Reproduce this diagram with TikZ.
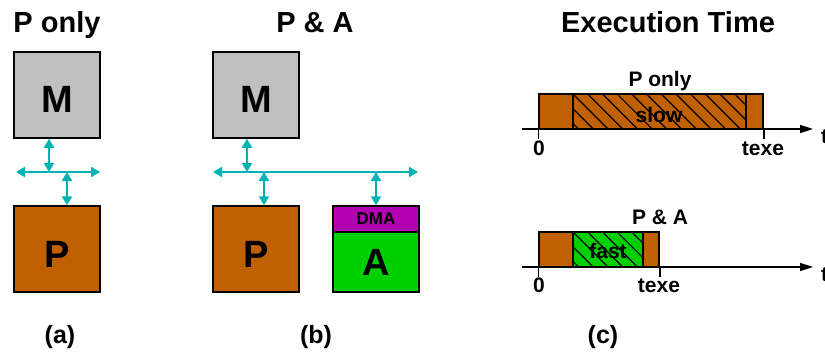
\documentclass[tikz,border=0pt]{standalone}
\usepackage{fontspec}
\setmainfont{Liberation Sans}
\usetikzlibrary{arrows.meta}
\definecolor{procbrown}{RGB}{192,96,0}
\definecolor{memgray}{RGB}{192,192,192}
\definecolor{accgreen}{RGB}{0,208,0}
\definecolor{dmapurple}{RGB}{176,0,176}
\definecolor{busteal}{RGB}{0,178,178}
\tikzset{
  unitbox/.style={draw=black, line width=1.5pt, inner sep=0pt, rectangle,
    minimum width=86pt, minimum height=86pt},
  bigletter/.style={font=\fontsize{38}{40}\selectfont\bfseries, inner sep=0pt, anchor=base},
  title/.style={font=\fontsize{29}{32}\selectfont\bfseries, inner sep=0pt, anchor=base},
  caption/.style={font=\fontsize{25}{28}\selectfont\bfseries, inner sep=0pt, anchor=base},
  small/.style={font=\fontsize{21}{24}\selectfont\bfseries, inner sep=0pt, anchor=base},
  busline/.style={draw=busteal, line width=2pt,
    {Triangle[length=9pt,width=10pt]}-{Triangle[length=9pt,width=10pt]}},
  axisline/.style={draw=black, line width=1.5pt, -{Triangle[length=13pt,width=8pt]}},
  seg/.style={draw=black, line width=1.5pt, inner sep=0pt, rectangle, minimum height=35pt},
  hatched/.style={path picture={
      \foreach \k in {-3,...,14}
        \draw[black, line width=1.2pt]
          ($(path picture bounding box.north west)+(\k*14.7,0)$) -- ++(40,40);}},
}
\usetikzlibrary{calc}
\begin{document}
\begin{tikzpicture}[x=1pt, y=-1pt]
\useasboundingbox (0,0) rectangle (825,353);

% ---------- (a) processor only ----------
\node[title] (ta) at (57,33) {P only};
\node[unitbox, fill=memgray] (Ma) at (57,95) {};
\node[bigletter] at (57,113) {M};
\node[unitbox, fill=procbrown] (Pa) at (57,249) {};
\node[bigletter] at (57,267) {P};
\coordinate (busLa) at (16,172);
\coordinate (busRa) at (100,172);
\coordinate (ja1) at (49,172);
\coordinate (ja2) at (67,172);
\draw[busline] (busLa) -- (busRa);
\draw[busline] (Ma.south -| ja1) -- (ja1);
\draw[busline] (ja2) -- (Pa.north -| ja2);
\node[caption] (ca) at (60,343) {(a)};

% ---------- (b) processor and accelerator ----------
\node[title] (tb) at (315,33) {P \& A};
\node[unitbox, fill=memgray] (Mb) at (256,95) {};
\node[bigletter] at (256,113) {M};
\node[unitbox, fill=procbrown] (Pb) at (256,249) {};
\node[bigletter] at (256,267) {P};
\node[unitbox, fill=dmapurple, minimum height=26pt] (DMA) at (376,219) {};
\node[font=\fontsize{17}{20}\selectfont\bfseries, inner sep=0pt, anchor=base] at (376,224) {DMA};
\node[unitbox, fill=accgreen, minimum height=60pt] (Ab) at (376,262) {};
\node[bigletter] at (376,275) {A};
\coordinate (busLb) at (213,172);
\coordinate (busRb) at (418,172);
\coordinate (jb1) at (247,172);
\coordinate (jb2) at (264,172);
\coordinate (jb3) at (376,172);
\draw[busline] (busLb) -- (busRb);
\draw[busline] (Mb.south -| jb1) -- (jb1);
\draw[busline] (jb2) -- (Pb.north -| jb2);
\draw[busline] (jb3) -- (DMA.north -| jb3);
\node[caption] (cb) at (316,343) {(b)};

% ---------- (c) execution time ----------
\node[title] (tc) at (668,33) {Execution Time};

% processor only timeline
\node[small] at (660,86) {P only};
\node[seg, fill=procbrown, minimum width=34pt] (s1a) at (556,111.5) {};
\node[seg, fill=procbrown, minimum width=173pt, hatched] (s1b) at (659.5,111.5) {};
\node[seg, fill=procbrown, minimum width=17pt] (s1c) at (754.5,111.5) {};
\node[small] at (659,122) {slow};
\coordinate (t1s) at (522,129);
\coordinate (t1e) at (813,129);
\draw[axisline] (t1s) -- (t1e);
\draw[black, line width=1.5pt] (s1a.south west) -- ++(0,9);
\draw[black, line width=1.5pt] (s1c.south east) -- ++(0,9);
\node[small] at (539,155) {0};
\node[small] at (763,155) {texe};
\node[small, anchor=west] at (821,137) {t};

% processor and accelerator timeline
\node[small] at (660,224) {P \& A};
\node[seg, fill=procbrown, minimum width=34pt] (s2a) at (556,249.5) {};
\node[seg, fill=accgreen, minimum width=70pt, hatched] (s2b) at (608,249.5) {};
\node[seg, fill=procbrown, minimum width=16pt] (s2c) at (651,249.5) {};
\node[small] at (608,258) {fast};
\coordinate (t2s) at (522,267);
\coordinate (t2e) at (813,267);
\draw[axisline] (t2s) -- (t2e);
\draw[black, line width=1.5pt] (s2a.south west) -- ++(0,9);
\draw[black, line width=1.5pt] (s2c.south east) -- ++(0,9);
\node[small] at (539,292) {0};
\node[small] at (659,292) {texe};
\node[small, anchor=west] at (821,275) {t};

\node[caption] (cc) at (603,343) {(c)};
\end{tikzpicture}
\end{document}
